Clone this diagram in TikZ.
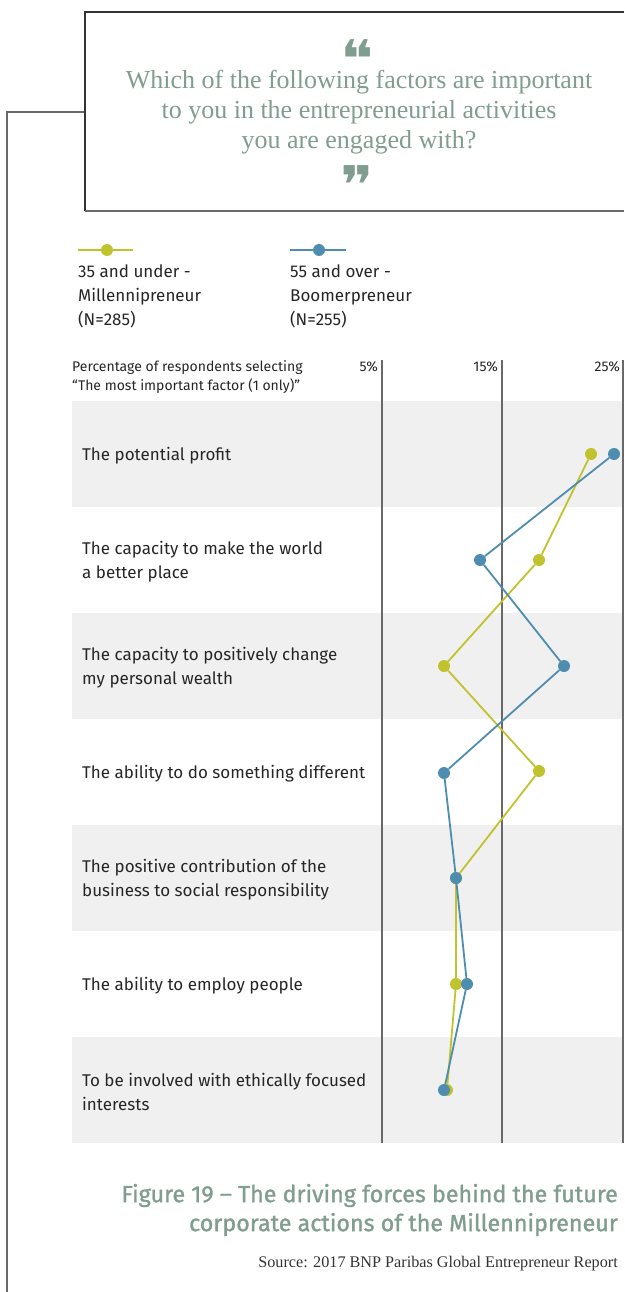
\documentclass[tikz,border=0pt]{standalone}
\usepackage{fontspec}
\setmainfont{Fira Sans}
\newfontfamily\qfont{Liberation Serif}
\newfontfamily\markfont{DejaVu Sans}
\newfontfamily\capfont[FakeBold=1.2]{Fira Sans}
\usepackage{tikz}
\definecolor{ylw}{RGB}{192,194,46}
\definecolor{blu}{RGB}{79,141,176}
\definecolor{band}{RGB}{240,240,240}
\definecolor{sage}{RGB}{128,157,143}
\definecolor{rule}{RGB}{105,105,105}
\newcommand{\qmark}[1]{\raisebox{-21pt}{#1}}
\tikzset{
  dotY/.style={circle,fill=ylw,minimum size=12pt,inner sep=0pt},
  dotB/.style={circle,fill=blu,minimum size=12pt,inner sep=0pt},
  lineY/.style={draw=ylw,line width=1.8pt},
  lineB/.style={draw=blu,line width=1.8pt},
  quotemark/.style={anchor=south,text=sage,font=\markfont\fontsize{52}{52}\selectfont,inner sep=0pt,text depth=0pt,xscale=1.2,transform shape},
  rowlabel/.style={anchor=west,align=left,inner sep=0pt,font=\fontsize{17}{24}\selectfont,text=black!85},
}
\begin{document}
\begin{tikzpicture}[x=1pt,y=-1pt]
\useasboundingbox (0,0) rectangle (624,1292);
% frame and question box
\draw[rule,line width=1.3pt] (85,112) -- (7,112) -- (7,1292);
\draw[black!80,line width=1.1pt] (624,12) -- (85,12) -- (85,211);
\draw[rule,line width=2pt] (85,211) -- (624,211);
\node[quotemark] (qopen) at (357,57) {\qmark{❝}};
\node[text=sage,font=\qfont\fontsize{26}{30}\selectfont,align=center,inner sep=0pt] (question) at (359,112)
  {Which of the following factors are important\\to you in the entrepreneurial activities\\you are engaged with?};
\node[quotemark] (qclose) at (357,183) {\qmark{❞}};
% legend
\coordinate (ly1) at (78,250);
\coordinate (ly2) at (133,250);
\coordinate (lb1) at (290,250);
\coordinate (lb2) at (346,250);
\draw[lineY] (ly1) -- (ly2);
\draw[lineB] (lb1) -- (lb2);
\node[dotY] (ly) at (107,250) {};
\node[dotB] (lb) at (319,250) {};
\node[rowlabel] (legY) at (78,296) {35 and under -\\Millennipreneur\\(N=285)};
\node[rowlabel] (legB) at (290,296) {55 and over -\\Boomerpreneur\\(N=255)};
% header
\node[anchor=west,align=left,inner sep=0pt,font=\fontsize{14}{19}\selectfont,text=black!85] (head) at (72,377)
  {Percentage of respondents selecting\\“The most important factor (1 only)”};
\node[anchor=east,inner sep=0pt,font=\fontsize{14}{19}\selectfont,text=black!85] (p5) at (378,367) {5\%};
\node[anchor=east,inner sep=0pt,font=\fontsize{14}{19}\selectfont,text=black!85] (p15) at (498,367) {15\%};
\node[anchor=east,inner sep=0pt,font=\fontsize{14}{19}\selectfont,text=black!85] (p25) at (620,367) {25\%};
% bands
\fill[band] (72,401) rectangle (623,507);
\fill[band] (72,613) rectangle (623,719);
\fill[band] (72,825) rectangle (623,931);
\fill[band] (72,1037) rectangle (623,1143);
\draw[rule,line width=1.6pt] (382,360) -- (382,1143);
\draw[rule,line width=1.6pt] (502,360) -- (502,1143);
\draw[rule,line width=1.6pt] (623,360) -- (623,1143);
% row labels
\node[rowlabel] (r1) at (82,456) {The potential profit};
\node[rowlabel] (r2) at (82,562) {The capacity to make the world\\a better place};
\node[rowlabel] (r3) at (82,668) {The capacity to positively change\\my personal wealth};
\node[rowlabel] (r4) at (82,774) {The ability to do something different};
\node[rowlabel] (r5) at (82,880) {The positive contribution of the\\business to social responsibility};
\node[rowlabel] (r6) at (82,986) {The ability to employ people};
\node[rowlabel] (r7) at (82,1092) {To be involved with ethically focused\\interests};
% 35 and under
\node[dotY] (y1) at (591,454) {};
\node[dotY] (y2) at (539,560) {};
\node[dotY] (y3) at (444,666) {};
\node[dotY] (y4) at (539,771) {};
\node[dotY] (y5) at (456,878) {};
\node[dotY] (y6) at (456,984) {};
\node[dotY] (y7) at (447,1090) {};
\draw[lineY] (y1) -- (y2) -- (y3) -- (y4) -- (y5) -- (y6) -- (y7);
% 55 and over
\node[dotB] (b1) at (614,454) {};
\node[dotB] (b2) at (480,560) {};
\node[dotB] (b3) at (564,666) {};
\node[dotB] (b4) at (444,773) {};
\node[dotB] (b5) at (456,878) {};
\node[dotB] (b6) at (467,984) {};
\node[dotB] (b7) at (444,1090) {};
\draw[lineB] (b1) -- (b2) -- (b3) -- (b4) -- (b5) -- (b6) -- (b7);
% caption
\node[anchor=east,align=right,inner sep=0pt,text=sage,font=\capfont\fontsize{23.3}{29}\selectfont] (caption) at (618,1210)
  {Figure 19 – The driving forces behind the future\\corporate actions of the Millennipreneur};
\node[anchor=east,inner sep=0pt,text=black!80,font=\qfont\fontsize{16.2}{18}\selectfont] (source) at (618,1264)
  {Source: 2017 BNP Paribas Global Entrepreneur Report};
\end{tikzpicture}
\end{document}
